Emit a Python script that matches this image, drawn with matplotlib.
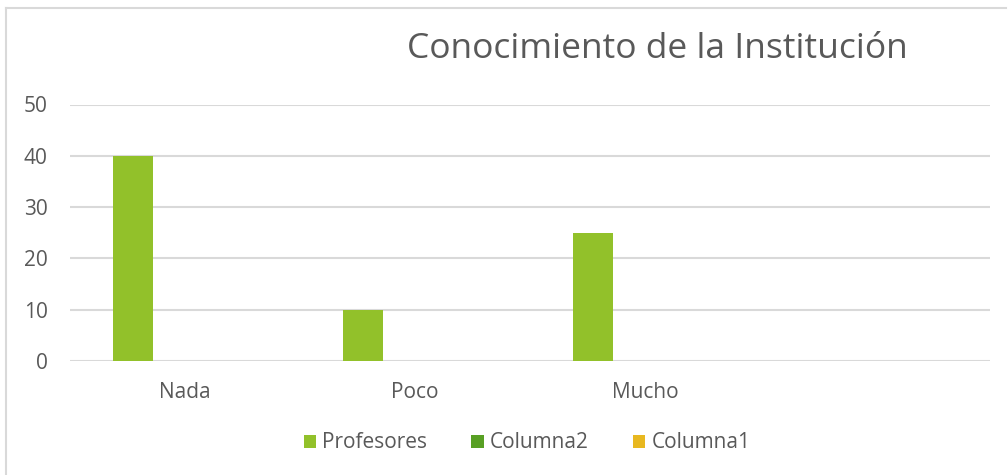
import matplotlib
matplotlib.use("Agg")
import matplotlib.pyplot as plt
import numpy as np
from matplotlib.lines import Line2D
from matplotlib.patches import Patch

plt.rcParams['font.family'] = ['Open Sans', 'DejaVu Sans']

categories = ["Nada", "Poco", "Mucho", ""]
profesores = [40, 10, 25, 0]
columna2 = [0, 0, 0, 0]
columna1 = [0, 0, 0, 0]
series_names = ["Profesores", "Columna2", "Columna1"]
colors = ["#92c12a", "#58a024", "#e8b820"]
text_grey = "#595959"

fig = plt.figure(figsize=(10.08, 4.75), dpi=100)
ax = fig.add_axes([70 / 1008, 1 - 361 / 475, 920 / 1008, (361 - 104.5) / 475])

x = np.arange(len(categories))
width = 40 / 230
offsets = [-52 / 230, 0, 52 / 230]
for vals, off, c in zip([profesores, columna2, columna1], offsets, colors):
    ax.bar(x + off, vals, width=width, color=c, linewidth=0, zorder=3)

ax.set_xlim(-0.5, len(categories) - 0.5)
ax.set_ylim(0, 50)
ax.set_yticks([0, 10, 20, 30, 40, 50])
ax.set_xticks(x)
ax.set_xticklabels(categories)
ax.grid(axis='y', color='#d9d9d9', linewidth=1.5, zorder=0)
ax.set_axisbelow(True)
for s in ax.spines.values():
    s.set_visible(False)
ax.tick_params(axis='both', length=0, labelsize=15, colors=text_grey)
ax.tick_params(axis='y', pad=16)
ax.tick_params(axis='x', pad=15)

fig.text(657 / 1008, 1 - 58 / 475, "Conocimiento de la Institución",
         ha='center', va='baseline', fontsize=25.5, color=text_grey)

handles = [Patch(facecolor=c, edgecolor='none') for c in colors]
fig.legend(handles, series_names, loc='center', bbox_to_anchor=(527 / 1008, 1 - 443 / 475),
           ncol=3, frameon=False, fontsize=15, labelcolor=text_grey,
           handlelength=0.6, handleheight=0.6, handletextpad=0.3, columnspacing=2.1)

# chart border
fig.add_artist(Line2D([6 / 1008, 6 / 1008], [0, 1 - 7.5 / 475], color='#d9d9d9', linewidth=1.5))
fig.add_artist(Line2D([6 / 1008, 1006 / 1008], [1 - 7.5 / 475, 1 - 7.5 / 475], color='#d9d9d9', linewidth=1.5))

fig.savefig("out.png", dpi=100)
